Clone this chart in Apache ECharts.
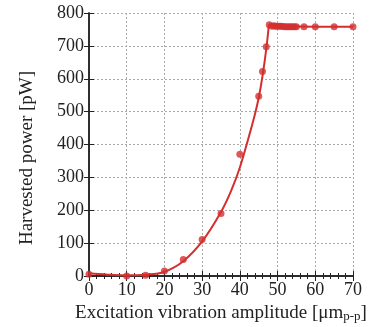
<!DOCTYPE html>
<html>
<head>
<meta charset="utf-8">
<script src="https://cdn.jsdelivr.net/npm/echarts@6/dist/echarts.min.js"></script>
<style>
html,body{margin:0;padding:0;background:#fff;}
#chart{width:376px;height:327px;}
</style>
</head>
<body>
<div id="chart"></div>
<script>
// measured points
var ampX = [0, 10, 15, 20, 25, 30, 35, 40, 45, 46, 47, 47.8, 48.5, 49, 49.5, 50, 50.5, 51, 51.5, 52, 52.5, 53, 53.5, 54, 54.5, 55, 57, 60, 65, 70];
var powerY = [5, 0, 2, 15, 50, 111, 190, 370, 547, 622, 697, 764, 760, 761, 760, 760, 760, 760, 759, 758, 758, 758, 758, 758, 758, 758, 758, 758, 758, 758];
// fitted curve
var fitX = [0, 5, 10, 15, 20, 25, 30, 35, 38, 40, 42, 44, 45, 46, 47, 47.7];
var fitY = [8, 4, 2, 4, 13, 45, 105, 195, 268, 330, 408, 492, 542, 608, 690, 765];
var flatX = [47.7, 50, 55, 60, 65, 70];
var flatY = [765, 760, 759, 758, 758, 758];
var xTicks = [0, 10, 20, 30, 40, 50, 60, 70];
var yTicks = [0, 100, 200, 300, 400, 500, 600, 700, 800];

var red = '#d42f2f';
var ink = '#222';
var font = '"Liberation Serif", "DejaVu Serif", serif';

var dom = document.getElementById('chart');
var myChart = echarts.init(dom);

function pairs(xs, ys) {
    return xs.map(function (x, i) { return [x, ys[i]]; });
}

var xBase = {
    type: 'value',
    min: xTicks[0],
    max: xTicks[xTicks.length - 1],
    interval: 10,
    axisLine: { show: true, lineStyle: { color: ink, width: 1.5 } },
    axisTick: { show: true, inside: true, length: 5, lineStyle: { color: ink } },
    minorTick: { show: true, splitNumber: 5, length: 3, lineStyle: { color: ink } },
    splitLine: { show: true, lineStyle: { color: '#aaa', type: [2, 2], width: 1 } }
};

var option = {
    animation: false,
    grid: { left: 89, right: 23, top: 13, bottom: 51, containLabel: false, outerBoundsMode: 'none' },
    xAxis: [
        Object.assign({}, xBase, {
            position: 'bottom',
            name: '{a|Excitation vibration amplitude [μm}{b|p-p}{a|]}',
            nameLocation: 'middle',
            nameGap: 28,
            nameTextStyle: {
                rich: {
                    a: { fontFamily: font, fontSize: 19, color: ink },
                    b: { fontFamily: font, fontSize: 13, color: ink, padding: [6, 0, 0, 0] }
                }
            },
            axisLabel: { fontFamily: font, fontSize: 18, color: ink, margin: 5 }
        }),
        Object.assign({}, xBase, {
            position: 'top',
            axisLabel: { show: false },
            splitLine: { show: false }
        })
    ],
    yAxis: [
        {
            type: 'value',
            min: yTicks[0],
            max: yTicks[yTicks.length - 1],
            interval: 100,
            name: 'Harvested power [pW]',
            nameLocation: 'middle',
            nameGap: 52,
            nameTextStyle: { fontFamily: font, fontSize: 19, color: ink, padding: [0, 0, 0, -27] },
            axisLine: { show: true, lineStyle: { color: ink, width: 1.5 } },
            axisTick: { show: true, inside: true, length: 5, lineStyle: { color: ink } },
            axisLabel: { fontFamily: font, fontSize: 18, color: ink, margin: 5 },
            splitLine: { show: true, lineStyle: { color: '#aaa', type: [2, 2], width: 1 } }
        },
        {
            type: 'value',
            min: yTicks[0],
            max: yTicks[yTicks.length - 1],
            interval: 100,
            position: 'right',
            axisLine: { show: true, lineStyle: { color: ink, width: 1.5 } },
            axisTick: { show: true, inside: true, length: 5, lineStyle: { color: ink } },
            axisLabel: { show: false },
            splitLine: { show: false }
        }
    ],
    series: [
        {
            name: 'fit',
            type: 'line',
            smooth: 0.4,
            showSymbol: false,
            lineStyle: { color: red, width: 2 },
            data: pairs(fitX, fitY)
        },
        {
            name: 'fit flat',
            type: 'line',
            showSymbol: false,
            lineStyle: { color: red, width: 2 },
            data: pairs(flatX, flatY)
        },
        {
            name: 'measured',
            type: 'scatter',
            symbol: 'circle',
            symbolSize: 7,
            itemStyle: { color: red },
            data: pairs(ampX, powerY)
        }
    ]
};

myChart.setOption(option);
window.addEventListener('resize', function () {
    myChart.resize();
});
</script>
</body>
</html>
